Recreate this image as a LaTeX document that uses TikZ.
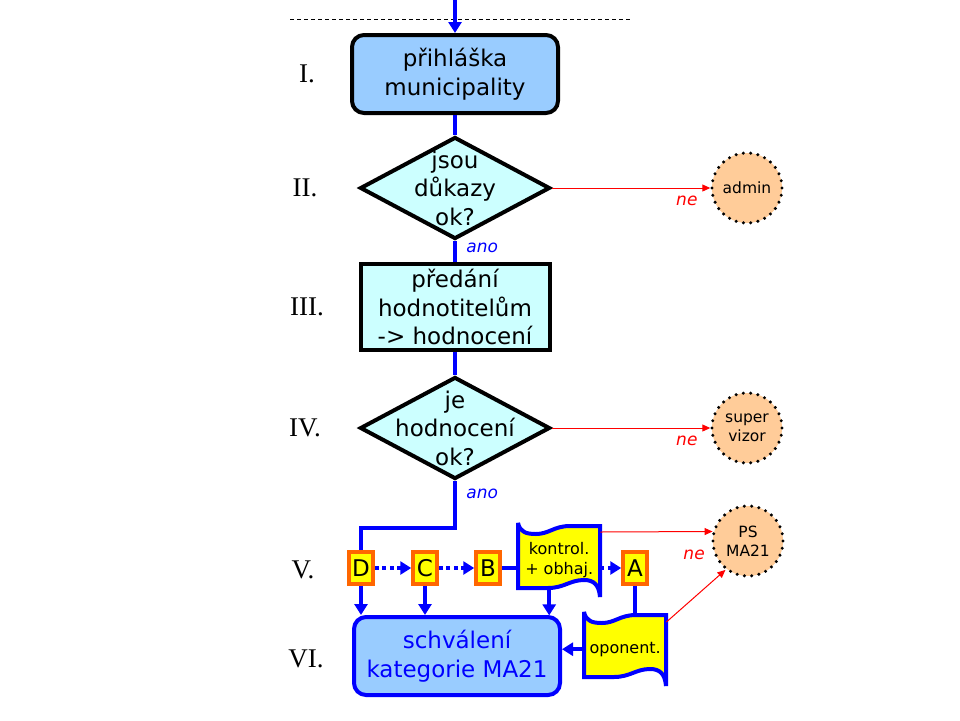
\documentclass[tikz,border=0pt]{standalone}
\usepackage{fontspec}
\setmainfont{DejaVu Sans}
\newfontfamily\numfont{Liberation Serif}
\usepackage{tikz}
\usetikzlibrary{arrows.meta,shapes,positioning}
\usepackage{xcolor}
\definecolor{flowblue}{RGB}{0,0,255}
\definecolor{boxblue}{RGB}{153,204,255}
\definecolor{boxcyan}{RGB}{204,255,255}
\definecolor{rolepeach}{RGB}{255,204,153}
\definecolor{tapeyellow}{RGB}{255,255,0}
\definecolor{letterorange}{RGB}{255,102,0}
\newcommand{\mainsize}{\fontsize{23}{28.5}\selectfont}
\newcommand{\tapesize}{\fontsize{16}{20.5}\selectfont}
\newcommand{\rolesize}{\fontsize{15.5}{19}\selectfont}
\newcommand{\labelsize}{\fontsize{17}{20}\selectfont}
\tikzstyle{process} = [rectangle, rounded corners=12pt, minimum width=206pt, minimum height=78pt, align=center, draw=black, fill=boxblue, line width=4pt, font=\mainsize]
\tikzstyle{task} = [rectangle, minimum width=189pt, minimum height=86pt, inner ysep=0pt, align=center, draw=black, fill=boxcyan, line width=4pt, font=\mainsize]
\tikzstyle{decision} = [diamond, minimum width=190pt, minimum height=102pt, inner sep=0pt, draw=black, fill=boxcyan, line width=4pt]
\tikzstyle{decisiontext} = [align=center, font=\mainsize]
\tikzstyle{letter} = [rectangle, minimum width=24pt, minimum height=32pt, inner sep=0pt, draw=letterorange, fill=tapeyellow, line width=3.5pt, font=\mainsize]
\tikzstyle{tape} = [fill=tapeyellow, draw=flowblue, line width=4pt, miter limit=3]
\tikzstyle{tapetext} = [minimum width=82pt, minimum height=74pt, inner sep=0pt, align=center, font=\tapesize]
\tikzstyle{role} = [circle, minimum size=70pt, inner sep=1pt, align=center, fill=rolepeach, draw=black, line width=3.4pt, dash pattern=on 0pt off 7.33pt, line cap=round, font=\rolesize]
\tikzstyle{level} = [font=\numfont\fontsize{27}{30}\selectfont]
\tikzstyle{flow} = [line width=4pt, color=flowblue]
\tikzstyle{flowarrow} = [flow, -{Triangle[length=11pt,width=13pt]}]
\tikzstyle{dotflow} = [flowarrow, dash pattern=on 4pt off 3.5pt]
\tikzstyle{reject} = [red, line width=1pt, -{Triangle[length=8pt,width=7pt]}]
\tikzstyle{ano} = [font=\labelsize\itshape, text=flowblue]
\tikzstyle{ne} = [font=\labelsize\itshape, text=red]

% wavy document: name, top left corner, text
\newcommand{\tapenode}[3]{%
  \filldraw[tape, shift={#2}] (0,0) .. controls (2,9) and (8,11) .. (18,11)
    .. controls (31,11) and (36,3) .. (52,3) -- (82,3) -- (82,74)
    .. controls (81,62) and (76,57) .. (66,57)
    .. controls (52,57) and (46,65) .. (30,65) -- (0,65) -- cycle;
  \node (#1) [tapetext, anchor=north west] at #2 {#3};
}

\begin{document}
\begin{tikzpicture}[x=1pt,y=-1pt]
\useasboundingbox (0,0) rectangle (960,720);
\coordinate (entry) at (455,0);
\draw[dashed, line width=0.8pt, dash pattern=on 4pt off 3pt] (290,19) -- (630,19);

% Levels
\node (lvlI) [level] at (307,74) {I.};
\node (lvlII) [level] at (305,188) {II.};
\node (lvlIII) [level] at (307,307) {III.};
\node (lvlIV) [level] at (305,428) {IV.};
\node (lvlV) [level] at (303,570) {V.};
\node (lvlVI) [level] at (306,659) {VI.};

% Steps
\node (prihlaska) [process] at (455,74) {přihláška\\municipality};
\node (dukazy) [decision, label={[decisiontext]center:{jsou\\důkazy\\ok?}}] at (455,188) {};
\node (predani) [task] at (455,307) {předání\\hodnotitelům\\-> hodnocení};
\node (hodnoceni) [decision, label={[decisiontext]center:{je\\hodnocení\\ok?}}] at (455,428) {};
\node (D) [letter] at (361,568) {D};
\node (C) [letter] at (425,568) {C};
\node (B) [letter] at (488,568) {B};
\tapenode{kontrol}{(518,523)}{kontrol.\\+ obhaj.}
\node (A) [letter] at (635,568) {A};
\tapenode{oponent}{(584,612)}{oponent.}
\node (schvaleni) [process, draw=flowblue, text=flowblue] at (457,656) {schválení\\kategorie MA21};

% Roles
\node (admin) [role] at (747,188) {admin};
\node (supervizor) [role] at (747,428) {super\\vizor};
\node (psma) [role] at (748,541) {PS\\MA21};

% Arrows
\draw[flowarrow] (entry) -- (prihlaska);
\draw[flow] (prihlaska) -- (dukazy);
\draw[flow] (dukazy) -- node[ano, right=6pt, pos=0.35] {ano} (predani);
\draw[flow] (predani) -- (hodnoceni);
\draw[flow] (hodnoceni.south) -- node[ano, right=6pt, pos=0.28] {ano} ++(0,47) -| (D.north);
\draw[dotflow] (D) -- (C);
\draw[dotflow] (C) -- (B);
\draw[flow] (B) -- (B -| kontrol.west);
\draw[dotflow] (kontrol.east |- A) -- (A);
\draw[flowarrow] (D) -- (D |- schvaleni.north);
\draw[flowarrow] (C) -- (C |- schvaleni.north);
\draw[flowarrow] ([xshift=-10pt,yshift=9pt]kontrol.south) -- ++(0,27);
\draw[flow] (A) -- ([yshift=-3pt]oponent.north -| A);
\draw[flowarrow] (oponent.west) -- (oponent.west -| schvaleni.east);

% Rejections
\draw[reject] (dukazy) -- node[ne, pos=1, below left=4pt and 9pt] {ne} (admin);
\draw[reject] (hodnoceni) -- node[ne, pos=1, below left=4pt and 9pt] {ne} (supervizor);
\draw[reject] ([yshift=-9pt]kontrol.north east) -- node[ne, pos=1, below left=15pt and 4pt] {ne} (psma.165);
\draw[reject] ([yshift=-10pt]oponent.north east) -- (psma.232);
\end{tikzpicture}
\end{document}
